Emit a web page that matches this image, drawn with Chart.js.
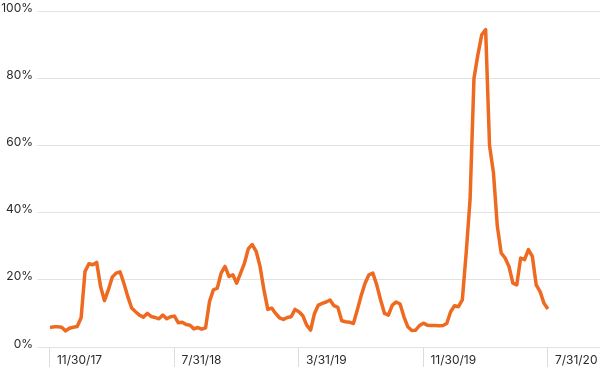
<!DOCTYPE html>
<html>
<head>
<meta charset="utf-8">
<script src="https://cdn.jsdelivr.net/npm/chart.js@4"></script>
<style>
  body { margin: 0; background: #fff; }
  #wrap { width: 600px; height: 370px; }
</style>
</head>
<body>
<div id="wrap"><canvas id="chart"></canvas></div>
<script>
// DATA
// share values (%), one every quarter month starting 11/30/17
const stepMonths = 0.25;
const shareValues = [
  5.8, 6.0, 6.0, 5.9, 4.8, 5.6, 5.9, 6.1, 8.7, 22.5,
  24.8, 24.5, 25.2, 18, 13.8, 17, 20.8, 22, 22.4, 19,
  15, 11.6, 10.5, 9.5, 8.9, 10, 9.1, 8.8, 8.4, 9.5,
  8.4, 9, 9.2, 7.2, 7.4, 6.7, 6.5, 5.4, 5.8, 5.3,
  5.7, 13.5, 17, 17.5, 22, 24, 21, 21.5, 19, 22,
  25, 29.3, 30.5, 28.5, 24, 17, 11.2, 11.6, 10, 8.7,
  8.2, 8.8, 9, 11.2, 10.5, 9.3, 6.5, 5, 10, 12.5,
  13, 13.4, 14, 12.3, 11.8, 7.8, 7.5, 7.4, 7, 11,
  15.3, 19, 21.5, 22, 18.5, 14, 10, 9.5, 12.5, 13.4,
  12.8, 9, 6, 4.9, 5, 6.4, 7.1, 6.5, 6.4, 6.4,
  6.3, 6.4, 7, 10.5, 12.3, 12, 14, 28, 44, 80,
  87, 93, 94.5, 60, 52, 36, 28, 26.5, 24, 19,
  18.5, 26.5, 26, 29, 27, 18.5, 16.5, 13, 11.3
];

// x tick labels and their positions (months after 11/30/17)
const tickLabels = ['11/30/17', '7/31/18', '3/31/19', '11/30/19', '7/31/20'];
const tickMonths = [0, 8, 16, 24, 32];

// y axis ticks
const yTicks = [0, 20, 40, 60, 80, 100];

const points = shareValues.map((v, i) => ({ x: i * stepMonths, y: v }));

const fontFamily = 'Inter, "Noto Sans", sans-serif';

new Chart(document.getElementById('chart'), {
  type: 'line',
  data: {
    datasets: [{
      data: points,
      borderColor: '#ed6a20',
      borderWidth: 3.5,
      borderJoinStyle: 'round',
      pointRadius: 0,
      tension: 0,
      fill: false
    }]
  },
  options: {
    responsive: true,
    maintainAspectRatio: false,
    animation: false,
    layout: { padding: { top: 11, right: 0, left: 0, bottom: 0 } },
    plugins: { legend: { display: false }, tooltip: { enabled: false } },
    scales: {
      x: {
        type: 'linear',
        min: -0.835,
        max: 35.35,
        afterBuildTicks: scale => {
          scale.ticks = tickMonths.map(v => ({ value: v }));
        },
        afterFit: scale => { scale.height = 23; },
        border: { display: false },
        grid: {
          drawOnChartArea: false,
          drawTicks: true,
          tickLength: 20,
          color: '#dcdcdc',
          lineWidth: 1
        },
        ticks: {
          autoSkip: false,
          maxRotation: 0,
          align: 'start',
          labelOffset: 7,
          padding: -14,
          color: '#2a2a2a',
          font: { family: fontFamily, size: 12 },
          callback: (v, i) => tickLabels[i]
        }
      },
      y: {
        min: 0,
        max: 100,
        afterBuildTicks: scale => {
          scale.ticks = yTicks.map(v => ({ value: v }));
        },
        afterFit: scale => { scale.width = 37; },
        border: { display: false },
        grid: {
          drawTicks: false,
          color: '#e2e2e2',
          lineWidth: 1
        },
        ticks: {
          padding: 4,
          labelOffset: -3,
          color: '#2a2a2a',
          font: { family: fontFamily, size: 12 },
          callback: v => v + '%'
        }
      }
    }
  }
});
</script>
</body>
</html>
